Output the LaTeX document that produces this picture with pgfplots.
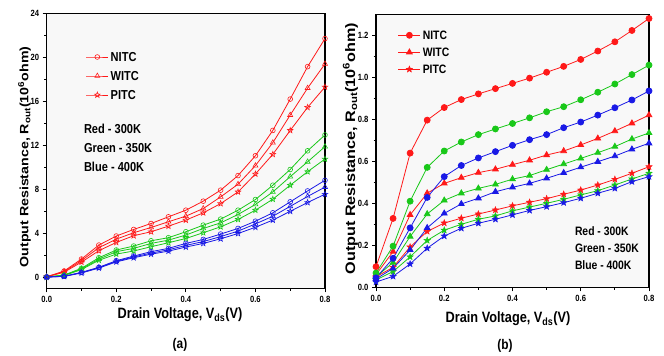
\documentclass[border=0pt]{standalone}
\usepackage{pgfplots}
\pgfplotsset{compat=1.18}
\usepackage{pgfplotstable}
\usepackage{graphicx}
\usepackage{fontspec}
\setmainfont{Liberation Sans}[FakeStretch=0.85]
\newfontfamily\ylabfont{Liberation Sans}

\definecolor{cR}{RGB}{255,25,25}
\definecolor{cG}{RGB}{25,200,25}
\definecolor{cB}{RGB}{25,25,230}
\definecolor{bgc}{RGB}{248,248,248}

\pgfdeclareplotmark{pstar}{%
 \pgfpathmoveto{\pgfpointpolar{90}{\pgfplotmarksize}}%
 \pgfpathlineto{\pgfpointpolar{126}{0.42\pgfplotmarksize}}%
 \pgfpathlineto{\pgfpointpolar{162}{\pgfplotmarksize}}%
 \pgfpathlineto{\pgfpointpolar{198}{0.42\pgfplotmarksize}}%
 \pgfpathlineto{\pgfpointpolar{234}{\pgfplotmarksize}}%
 \pgfpathlineto{\pgfpointpolar{270}{0.42\pgfplotmarksize}}%
 \pgfpathlineto{\pgfpointpolar{306}{\pgfplotmarksize}}%
 \pgfpathlineto{\pgfpointpolar{342}{0.42\pgfplotmarksize}}%
 \pgfpathlineto{\pgfpointpolar{18}{\pgfplotmarksize}}%
 \pgfpathlineto{\pgfpointpolar{54}{0.42\pgfplotmarksize}}%
 \pgfpathclose\pgfusepathqstroke}
\pgfdeclareplotmark{pstar*}{%
 \pgfpathmoveto{\pgfpointpolar{90}{\pgfplotmarksize}}%
 \pgfpathlineto{\pgfpointpolar{126}{0.42\pgfplotmarksize}}%
 \pgfpathlineto{\pgfpointpolar{162}{\pgfplotmarksize}}%
 \pgfpathlineto{\pgfpointpolar{198}{0.42\pgfplotmarksize}}%
 \pgfpathlineto{\pgfpointpolar{234}{\pgfplotmarksize}}%
 \pgfpathlineto{\pgfpointpolar{270}{0.42\pgfplotmarksize}}%
 \pgfpathlineto{\pgfpointpolar{306}{\pgfplotmarksize}}%
 \pgfpathlineto{\pgfpointpolar{342}{0.42\pgfplotmarksize}}%
 \pgfpathlineto{\pgfpointpolar{18}{\pgfplotmarksize}}%
 \pgfpathlineto{\pgfpointpolar{54}{0.42\pgfplotmarksize}}%
 \pgfpathclose\pgfusepathqfillstroke}

\pgfplotstableread{
x rN rW rP gN gW gP bN bW bP
0.00 0.05 0.05 0.04 0.03 0.03 0.03 0.02 0.02 0.02
0.05 0.57 0.52 0.46 0.20 0.18 0.16 0.10 0.09 0.08
0.10 1.66 1.52 1.38 0.82 0.76 0.70 0.45 0.42 0.39
0.15 2.93 2.69 2.42 1.78 1.65 1.55 0.91 0.88 0.84
0.20 3.75 3.47 3.17 2.48 2.33 2.11 1.51 1.45 1.40
0.25 4.35 4.05 3.78 2.84 2.63 2.39 1.93 1.85 1.78
0.30 4.89 4.53 4.14 3.32 3.08 2.78 2.33 2.20 2.10
0.35 5.50 5.05 4.65 3.60 3.38 3.14 2.63 2.50 2.38
0.40 6.10 5.56 5.20 4.14 3.84 3.53 3.08 2.90 2.75
0.45 6.92 6.25 5.86 4.74 4.44 4.05 3.44 3.25 3.08
0.50 7.92 7.31 6.70 5.29 4.95 4.59 3.93 3.70 3.50
0.55 9.25 8.46 7.76 6.10 5.71 5.26 4.44 4.20 3.98
0.60 11.05 10.15 9.39 7.07 6.62 6.10 5.10 4.85 4.55
0.65 13.35 12.24 11.18 8.37 7.76 7.10 5.86 5.55 5.20
0.70 16.20 14.75 13.35 9.80 9.15 8.37 6.86 6.45 6.00
0.75 19.15 17.20 15.45 11.50 10.50 9.60 7.85 7.35 6.80
0.80 21.70 19.40 17.30 12.94 11.88 10.75 8.82 8.20 7.55
}\tabA

\pgfplotstableread{
x rN rW rP gN gW gP bN bW bP
0.00 0.098 0.060 0.050 0.068 0.050 0.035 0.045 0.040 0.025
0.05 0.328 0.170 0.095 0.196 0.118 0.075 0.138 0.090 0.052
0.10 0.639 0.345 0.192 0.410 0.242 0.145 0.283 0.178 0.111
0.15 0.796 0.448 0.266 0.571 0.349 0.223 0.428 0.283 0.186
0.20 0.856 0.495 0.306 0.649 0.414 0.272 0.527 0.352 0.244
0.25 0.894 0.522 0.329 0.692 0.448 0.300 0.580 0.397 0.281
0.30 0.921 0.546 0.349 0.727 0.471 0.324 0.616 0.424 0.305
0.35 0.946 0.562 0.368 0.754 0.490 0.340 0.646 0.455 0.324
0.40 0.971 0.584 0.388 0.780 0.515 0.364 0.676 0.476 0.345
0.45 0.996 0.605 0.405 0.807 0.532 0.382 0.703 0.495 0.366
0.50 1.024 0.630 0.422 0.836 0.560 0.400 0.727 0.519 0.384
0.55 1.052 0.649 0.443 0.860 0.587 0.419 0.760 0.545 0.403
0.60 1.085 0.678 0.463 0.893 0.614 0.440 0.787 0.572 0.424
0.65 1.125 0.709 0.487 0.929 0.641 0.460 0.820 0.598 0.448
0.70 1.169 0.744 0.514 0.968 0.670 0.487 0.855 0.625 0.471
0.75 1.223 0.781 0.543 1.013 0.706 0.516 0.892 0.657 0.503
0.80 1.280 0.820 0.574 1.058 0.735 0.543 0.935 0.686 0.527
}\tabB

\pgfplotsset{
  panel/.style={
    scale only axis, xmin=0, xmax=0.8,
    axis background/.style={fill=bgc},
    axis line style={line width=1.2pt, black},
    tick align=outside, xtick pos=left, ytick pos=left,
    minor x tick num=1, minor y tick num=1,
    major tick length=4pt, minor tick length=2.5pt,
    every tick/.style={line width=0.8pt, black},
    xtick={0,0.2,0.4,0.6,0.8}, xticklabels={0.0,0.2,0.4,0.6,0.8},
    /pgf/number format/assume math mode=true,
    ticklabel style={font=\bfseries\fontsize{9}{10}\selectfont},
    every axis plot/.append style={line width=0.8pt},
    legend cell align=left,
    legend image code/.code={\draw[mark repeat=2,mark phase=2] plot coordinates {(0pt,0pt) (11pt,0pt) (22pt,0pt)};},
  },
}

\begin{document}
\begin{tikzpicture}
\useasboundingbox (0,0) rectangle (664pt,356pt);

% ---------- panel (a)
\begin{axis}[panel, at={(46.7pt,67.7pt)}, anchor=south west,
  width=278.3pt, height=275pt, ymin=-1, ymax=24,
  ytick={0,4,8,12,16,20,24},
  legend style={at={(axis description cs:0.141,0.858)}, anchor=north west,
    draw=none, fill=none, inner sep=0pt, outer sep=0pt, row sep=9.7pt, column sep=2pt,
    nodes={inner sep=0pt, text height=9.3pt, text depth=0pt},
    font=\bfseries\fontsize{13}{13}\selectfont},
  ]
\addplot[cR, mark=o, mark size=2.4pt, mark options={line width=0.6pt}] table[x=x,y=rN]{\tabA};
\addlegendentry{NITC}
\addplot[cR, mark=triangle, mark size=2.9pt, mark options={line width=0.6pt}] table[x=x,y=rW]{\tabA};
\addlegendentry{WITC}
\addplot[cR, mark=pstar, mark size=2.9pt, mark options={line width=0.6pt}] table[x=x,y=rP]{\tabA};
\addlegendentry{PITC}
\addplot[forget plot, cG, mark=o, mark size=2.4pt, mark options={line width=0.6pt}] table[x=x,y=gN]{\tabA};
\addplot[forget plot, cG, mark=triangle, mark size=2.9pt, mark options={line width=0.6pt}] table[x=x,y=gW]{\tabA};
\addplot[forget plot, cG, mark=pstar, mark size=2.9pt, mark options={line width=0.6pt}] table[x=x,y=gP]{\tabA};
\addplot[forget plot, cB, mark=o, mark size=2.4pt, mark options={line width=0.6pt}] table[x=x,y=bN]{\tabA};
\addplot[forget plot, cB, mark=triangle, mark size=2.9pt, mark options={line width=0.6pt}] table[x=x,y=bW]{\tabA};
\addplot[forget plot, cB, mark=pstar, mark size=2.9pt, mark options={line width=0.6pt}] table[x=x,y=bP]{\tabA};
\end{axis}

% ---------- panel (b)
\begin{axis}[panel, at={(376pt,68.7pt)}, anchor=south west,
  width=273pt, height=273pt, ymin=0, ymax=1.3,
  ytick={0,0.2,0.4,0.6,0.8,1.0,1.2},
  yticklabels={0.0,0.2,0.4,0.6,0.8,1.0,1.2},
  legend style={at={(axis description cs:0.0806,0.939)}, anchor=north west,
    draw=none, fill=none, inner sep=0pt, outer sep=0pt, row sep=8.3pt, column sep=2pt,
    nodes={inner sep=0pt, text height=8.7pt, text depth=0pt},
    font=\bfseries\fontsize{12.2}{12.2}\selectfont},
  ]
\addplot[cR, mark=*, mark size=3pt] table[x=x,y=rN]{\tabB};
\addlegendentry{NITC}
\addplot[cR, mark=triangle*, mark size=3.3pt] table[x=x,y=rW]{\tabB};
\addlegendentry{WITC}
\addplot[cR, mark=pstar*, mark size=3.4pt, mark options={line width=0.4pt}] table[x=x,y=rP]{\tabB};
\addlegendentry{PITC}
\addplot[forget plot, cG, mark=*, mark size=3pt] table[x=x,y=gN]{\tabB};
\addplot[forget plot, cG, mark=triangle*, mark size=3.3pt] table[x=x,y=gW]{\tabB};
\addplot[forget plot, cG, mark=pstar*, mark size=3.4pt, mark options={line width=0.4pt}] table[x=x,y=gP]{\tabB};
\addplot[forget plot, cB, mark=*, mark size=3pt] table[x=x,y=bN]{\tabB};
\addplot[forget plot, cB, mark=triangle*, mark size=3.3pt] table[x=x,y=bW]{\tabB};
\addplot[forget plot, cB, mark=pstar*, mark size=3.4pt, mark options={line width=0.4pt}] table[x=x,y=bP]{\tabB};
\end{axis}

% ---------- texts
\begin{scope}[every node/.style={inner sep=0pt, outer sep=0pt}]
\node[anchor=base west, font=\bfseries\fontsize{13}{13}\selectfont] at (84pt,222pt) {Red - 300K};
\node[anchor=base west, font=\bfseries\fontsize{13}{13}\selectfont] at (84pt,203pt) {Green - 350K};
\node[anchor=base west, font=\bfseries\fontsize{13}{13}\selectfont] at (84pt,184pt) {Blue - 400K};
\node[anchor=base west, font=\bfseries\fontsize{12.2}{12.2}\selectfont] at (575pt,120.8pt) {Red - 300K};
\node[anchor=base west, font=\bfseries\fontsize{12.2}{12.2}\selectfont] at (575pt,103.5pt) {Green - 350K};
\node[anchor=base west, font=\bfseries\fontsize{12.2}{12.2}\selectfont] at (575pt,86.8pt) {Blue - 400K};

\node[anchor=base, font=\bfseries\fontsize{15}{15}\selectfont] at (180pt,37pt) {Drain Voltage, V\textsubscript{ds}(V)};
\node[anchor=base, font=\bfseries\fontsize{15}{15}\selectfont] at (508pt,33pt) {Drain Voltage, V\textsubscript{ds}(V)};
\node[anchor=base, font=\bfseries\fontsize{14}{14}\selectfont] at (180pt,7pt) {(a)};
\node[anchor=base, font=\bfseries\fontsize{14}{14}\selectfont] at (505pt,6pt) {(b)};

\node[rotate=90, anchor=base] at (28.5pt,199pt) {\scalebox{1}[0.85]{\ylabfont\bfseries\fontsize{14.2}{15}\selectfont Output Resistance, R\textsubscript{out}(10\textsuperscript{6}ohm)}};
\node[rotate=90, anchor=base] at (355pt,207.5pt) {\scalebox{1}[0.85]{\ylabfont\bfseries\fontsize{16.2}{17}\selectfont Output Resistance, R\textsubscript{out}(10\textsuperscript{6}ohm)}};
\end{scope}
\end{tikzpicture}
\end{document}
